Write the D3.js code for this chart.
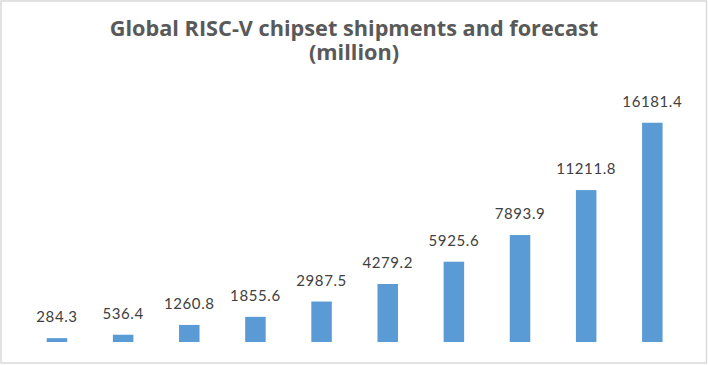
<!DOCTYPE html>
<html><head><meta charset="utf-8">
<script src="https://cdn.jsdelivr.net/npm/d3@7"></script>
<style>body{margin:0;background:#fff}svg{display:block}</style>
</head><body>
<div id="chart"></div>
<script>
const categories = ["2017","2018","2019","2020","2021","2022","2023","2024","2025","2026"];
const shipments = [284.3, 536.4, 1260.8, 1855.6, 2987.5, 4279.2, 5925.6, 7893.9, 11211.8, 16181.4];
const titleLines = ["Global RISC-V chipset shipments and forecast", "(million)"];

const W = 708, H = 365;
const svg = d3.select("#chart").append("svg").attr("width", W).attr("height", H);
svg.append("rect").attr("x",1).attr("y",1).attr("width",705.5).attr("height",362)
  .attr("fill","#fff").attr("stroke","#d9d9d9").attr("stroke-width",1.5);

const x = d3.scaleBand().domain(categories).range([23.9, 685.4]).paddingInner(0.69).paddingOuter(0.345);
const y = d3.scaleLinear().domain([0, 18000]).range([342, 98.1]);

svg.append("g").selectAll("rect").data(shipments).join("rect")
  .attr("x",(d,i)=>x(categories[i])).attr("width",x.bandwidth())
  .attr("y",d=>y(d)).attr("height",d=>y(0)-y(d)).attr("fill","#5b9bd5");

svg.append("g").selectAll("text").data(shipments).join("text")
  .attr("x",(d,i)=>x(categories[i])+x.bandwidth()/2).attr("y",d=>y(d)-16)
  .attr("text-anchor","middle").attr("font-family","Lato").attr("font-size",15)
  .attr("letter-spacing",0.6).attr("fill","#404040").text(d=>d.toFixed(1));

const title = svg.append("text").attr("text-anchor","middle")
  .attr("font-family","Open Sans").attr("font-weight","bold").attr("font-size",21.7)
  .attr("fill","#595959");
title.selectAll("tspan").data(titleLines).join("tspan")
  .attr("x",354).attr("y",(d,i)=>36+i*24).text(d=>d);
</script>
</body></html>
